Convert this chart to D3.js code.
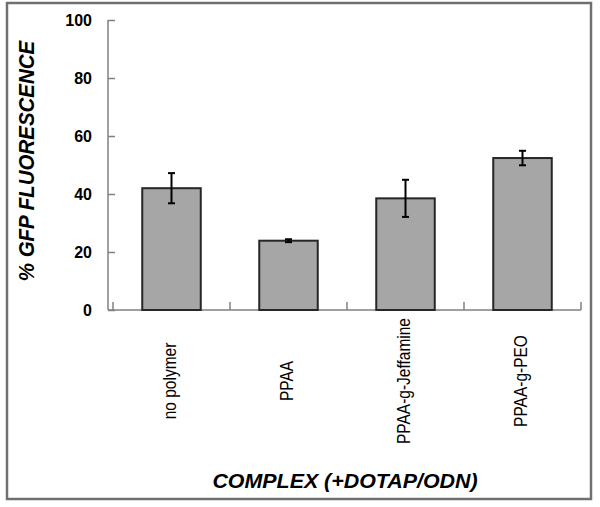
<!DOCTYPE html>
<html>

<head>
    <meta charset="utf-8">
    <title>GFP fluorescence</title>
    <script src="https://cdnjs.cloudflare.com/ajax/libs/d3/7.8.5/d3.min.js"></script>
    <style>
        body {
            margin: 0;
            background: #fff;
        }

        text {
            font-family: Arial, "Liberation Sans", sans-serif;
            fill: #000;
        }
    </style>
</head>

<body>
    <script>
        // data
        var categories = ["no polymer", "PPAA", "PPAA-g-Jeffamine", "PPAA-g-PEO"];
        var values = [42, 23.9, 38.5, 52.4];
        var errors = [5.2, 0.5, 6.4, 2.5];
        var yTicks = [0, 20, 40, 60, 80, 100];

        var W = 600, H = 507;

        var svg = d3.select("body").append("svg")
            .attr("width", W)
            .attr("height", H);

        // outer frame
        svg.append("rect")
            .attr("x", 7).attr("y", 3)
            .attr("width", 584).attr("height", 496)
            .attr("fill", "#fff")
            .attr("stroke", "#707070")
            .attr("stroke-width", 2.5);

        var y = d3.scaleLinear().domain([0, 100]).range([310, 20]);
        var x = d3.scaleBand().domain(categories).range([113, 581])
            .paddingInner(0.5).paddingOuter(0.25);

        var axisX0 = 108;

        // y axis: ticks drawn inward
        var yAxis = svg.append("g")
            .attr("transform", "translate(" + axisX0 + ",0)")
            .call(d3.axisRight(y).tickValues(yTicks).tickSize(7).tickFormat(""));
        yAxis.select(".domain").remove();
        yAxis.selectAll("line").attr("stroke", "#808080").attr("stroke-width", 1.5);
        yAxis.append("line")
            .attr("x1", 0).attr("x2", 0)
            .attr("y1", y(100)).attr("y2", y(0))
            .attr("stroke", "#808080").attr("stroke-width", 1.5);

        svg.append("g").selectAll("text").data(yTicks).enter().append("text")
            .attr("x", 92)
            .attr("y", function(d) { return y(d); })
            .attr("dy", "0.36em")
            .attr("text-anchor", "end")
            .style("font-size", "16px")
            .style("font-weight", "bold")
            .text(function(d) { return d; });

        // x axis line and category boundary ticks
        svg.append("line")
            .attr("x1", axisX0).attr("x2", 581)
            .attr("y1", y(0)).attr("y2", y(0))
            .attr("stroke", "#808080").attr("stroke-width", 1.5);

        var step = x.step();
        var bounds = categories.map(function(d) { return x(d) - (step - x.bandwidth()) / 2; });
        bounds.push(bounds[bounds.length - 1] + step);
        svg.append("g").selectAll("line").data(bounds).enter().append("line")
            .attr("x1", function(d) { return d; })
            .attr("x2", function(d) { return d; })
            .attr("y1", y(0)).attr("y2", y(0) - 8)
            .attr("stroke", "#808080").attr("stroke-width", 1.5);

        // bars
        svg.append("g").selectAll("rect").data(values).enter().append("rect")
            .attr("x", function(d, i) { return x(categories[i]); })
            .attr("y", function(d) { return y(d); })
            .attr("width", x.bandwidth())
            .attr("height", function(d) { return y(0) - y(d); })
            .attr("fill", "#a6a6a6")
            .attr("stroke", "#262626")
            .attr("stroke-width", 2);

        // error bars
        var eb = svg.append("g").attr("stroke", "#000").attr("stroke-width", 2);
        values.forEach(function(v, i) {
            var cx = x(categories[i]) + x.bandwidth() / 2;
            var top = y(v + errors[i]), bot = y(v - errors[i]);
            eb.append("line").attr("x1", cx).attr("x2", cx).attr("y1", top).attr("y2", bot);
            eb.append("line").attr("x1", cx - 3.5).attr("x2", cx + 3.5).attr("y1", top).attr("y2", top);
            eb.append("line").attr("x1", cx - 3.5).attr("x2", cx + 3.5).attr("y1", bot).attr("y2", bot);
        });

        // rotated category labels (glyphs a little wider, as in the scan)
        svg.append("g").selectAll("text").data(categories).enter().append("text")
            .attr("transform", function(d) {
                return "translate(" + (x(d) + x.bandwidth() / 2 - 2) + ",381) scale(1.15,1) rotate(-90)";
            })
            .attr("text-anchor", "middle")
            .attr("dy", "0.35em")
            .style("font-size", "15.5px")
            .text(function(d) { return d; });

        // axis titles
        svg.append("text")
            .attr("transform", "translate(26,161) scale(1.1,1) rotate(-90)")
            .attr("text-anchor", "middle")
            .attr("dy", "0.35em")
            .style("font-size", "20.5px")
            .style("font-weight", "bold")
            .style("font-style", "italic")
            .text("% GFP FLUORESCENCE");

        svg.append("text")
            .attr("transform", "translate(345,488) scale(1.07,1)")
            .attr("text-anchor", "middle")
            .style("font-size", "20px")
            .style("font-weight", "bold")
            .style("font-style", "italic")
            .text("COMPLEX (+DOTAP/ODN)");
    </script>
</body>

</html>
